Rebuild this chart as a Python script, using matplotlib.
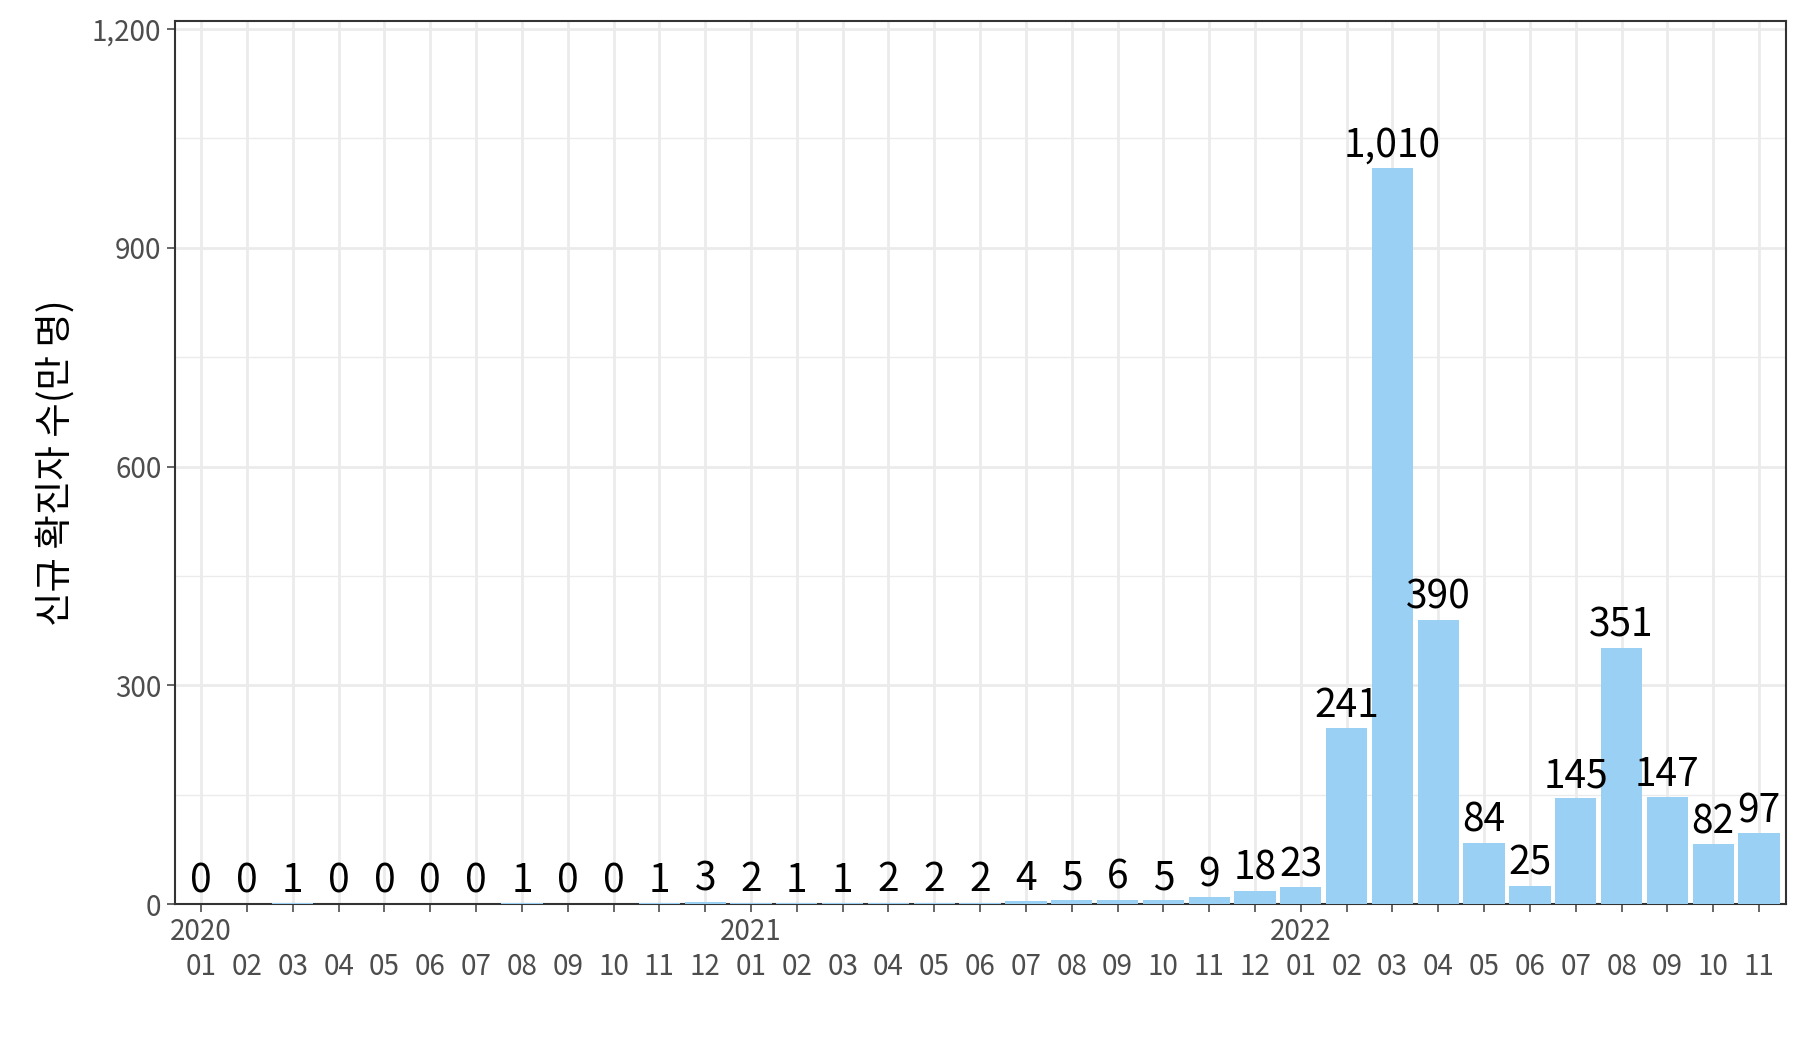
import matplotlib
matplotlib.use("Agg")
import matplotlib.pyplot as plt
import numpy as np

plt.rcParams['font.family'] = ['Noto Sans CJK KR', 'DejaVu Sans']

years = ["2020"]*12 + ["2021"]*12 + ["2022"]*11
months = [f"{m:02d}" for m in range(1, 13)]*2 + [f"{m:02d}" for m in range(1, 12)]
values = [0,0,1,0,0,0,0,1,0,0,1,3,
          2,1,1,2,2,2,4,5,6,5,9,18,
          23,241,1010,390,84,25,145,351,147,82,97]

x = np.arange(len(values))
labels = [(y if m == "01" else " ") + "\n" + m for y, m in zip(years, months)]

fig = plt.figure(figsize=(18, 10.5), dpi=100)
ax = fig.add_axes([0.097, 0.139, 0.895, 0.841])
ax.bar(x, values, width=0.9, color="#9BD0F5", zorder=3)
for xi, v in zip(x, values):
    ax.text(xi, v + 3, f"{v:,}", ha="center", va="bottom", fontsize=28, zorder=4)

ax.set_xlim(-0.58, 34.58)
ax.set_ylim(0, 1211)
ax.set_yticks([0, 300, 600, 900, 1200])
ax.set_yticklabels(["0", "300", "600", "900", "1,200"])
ax.set_yticks([150, 450, 750, 1050], minor=True)
ax.set_xticks(x)
ax.set_xticklabels(labels, ha="center")
ax.tick_params(axis="both", labelsize=20, colors="#4d4d4d", length=6, width=1.2)
ax.tick_params(axis="y", which="minor", length=0)
for lab in ax.get_xticklabels():
    lab.set_multialignment("center")
ax.grid(True, which="major", color="#ebebeb", lw=2, zorder=0)
ax.grid(True, which="minor", axis="y", color="#ebebeb", lw=1, zorder=0)
for s in ax.spines.values():
    s.set_color("#333333"); s.set_linewidth(1.5)
ax.set_ylabel("신규 확진자 수(만 명)", fontsize=27, labelpad=12)
fig.savefig("out.png", dpi=100, facecolor="white")
